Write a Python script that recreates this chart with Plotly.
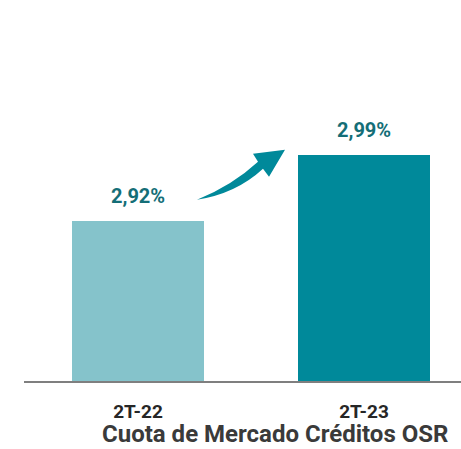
import plotly.graph_objects as go

categories = ["2T-22", "2T-23"]
values = [2.92, 2.99]
bar_colors = ["#85C3CB", "#00899A"]
title_text = "Cuota de Mercado Créditos OSR"

FONT = "Roboto, Arial, sans-serif"
W, H = 461, 449
L, R, T, B = 24, 0, 20, 67.5
pw, ph = W - L - R, H - T - B

def px2paper(x, y):
    return (x - L) / pw, (H - B - y) / ph

fig = go.Figure()
fig.add_trace(go.Bar(
    x=categories, y=values, marker=dict(color=bar_colors, line=dict(width=0)),
    width=0.584, hoverinfo="skip",
))

for c, v in zip(categories, values):
    fig.add_annotation(
        x=c, y=v, text=f"{v:.2f}%".replace(".", ","), showarrow=False,
        yanchor="bottom", yshift=11,
        font=dict(family=FONT, size=20, color="#146E77", weight="bold"),
    )

# curved arrow (decoration)
pts = [(197, 200), (232, 186), (258, 162), (253, 154), (285, 150),
       (269, 177), (263, 169), (236, 194), (197, 200)]
pp = [px2paper(*p) for p in pts]
path = (f"M {pp[0][0]},{pp[0][1]} Q {pp[1][0]},{pp[1][1]} {pp[2][0]},{pp[2][1]} "
        f"L {pp[3][0]},{pp[3][1]} L {pp[4][0]},{pp[4][1]} L {pp[5][0]},{pp[5][1]} "
        f"L {pp[6][0]},{pp[6][1]} Q {pp[7][0]},{pp[7][1]} {pp[8][0]},{pp[8][1]} Z")
fig.add_shape(type="path", xref="paper", yref="paper", path=path,
              fillcolor="#00899A", line=dict(width=0))

tx, ty = px2paper(274.5, 434.5)
fig.add_annotation(xref="paper", yref="paper", x=tx, y=ty, text=title_text,
                   showarrow=False, xanchor="center", yanchor="middle",
                   font=dict(family=FONT, size=24, color="#3A3A3A", weight="bold"))

fig.update_layout(
    width=W, height=H, margin=dict(l=L, r=R, t=T, b=B),
    paper_bgcolor="white", plot_bgcolor="white", showlegend=False,
    bargap=0,
    xaxis=dict(range=[-0.5044, 1.4292], showline=True, linecolor="#7F7F7F",
               linewidth=1.5, ticks="", showgrid=False, ticklabelstandoff=12,
               tickfont=dict(family=FONT, size=19, color="#262626", weight="bold")),
    yaxis=dict(range=[2.75, 2.75 + ph / 942.9], visible=False, showgrid=False),
)

fig.write_html("out.html", post_script="document.body.style.margin='0';",
               config={"displayModeBar": False})
